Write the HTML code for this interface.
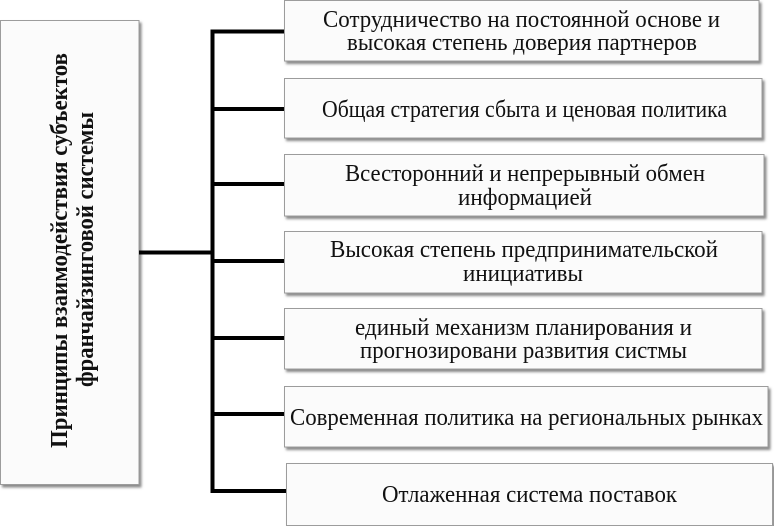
<!DOCTYPE html>
<html>
<head>
<meta charset="utf-8">
<style>
  html, body { margin: 0; padding: 0; background: #ffffff; }
  body { width: 774px; height: 526px; overflow: hidden; }
  svg { display: block; }
  text { font-family: "Liberation Serif", "DejaVu Serif", serif; fill: #111; }
</style>
</head>
<body>
<svg width="774" height="526" viewBox="0 0 774 526" xmlns="http://www.w3.org/2000/svg">
  <defs>
    <filter id="sh" x="-5%" y="-5%" width="115%" height="130%">
      <feDropShadow dx="2" dy="2.5" stdDeviation="1.3" flood-color="#6a6a6a" flood-opacity="0.8"/>
    </filter>
  </defs>

  <!-- Left main box -->
  <rect x="0.5" y="20.5" width="138.5" height="464" fill="#fbfbfb" stroke="#9c9c9c" stroke-width="1" filter="url(#sh)"/>
  <text transform="translate(67,250.5) rotate(-90)" text-anchor="middle" font-size="24" font-weight="bold" textLength="395" lengthAdjust="spacingAndGlyphs">Принципы взаимодействия субъектов</text>
  <text transform="translate(93,249.5) rotate(-90)" text-anchor="middle" font-size="24" font-weight="bold" textLength="275" lengthAdjust="spacingAndGlyphs">франчайзинговой системы</text>

  <!-- Connectors -->
  <g stroke="#000" stroke-width="4" fill="none" stroke-linecap="butt">
    <line x1="139" y1="252.5" x2="214" y2="252.5"/>
    <line x1="212.5" y1="29.5" x2="212.5" y2="493"/>
    <line x1="211" y1="31.5" x2="285" y2="31.5"/>
    <line x1="211" y1="109" x2="285" y2="109"/>
    <line x1="211" y1="184" x2="285" y2="184"/>
    <line x1="211" y1="261" x2="285" y2="261"/>
    <line x1="211" y1="338" x2="285" y2="338"/>
    <line x1="211" y1="414" x2="285" y2="414"/>
    <line x1="211" y1="491" x2="287" y2="491"/>
  </g>

  <!-- Right boxes -->
  <g fill="#fbfbfb" stroke="#9c9c9c" stroke-width="1" filter="url(#sh)">
    <rect x="284.5" y="0.5" width="474.5" height="60.5"/>
    <rect x="284.5" y="78.5" width="477.5" height="59.5"/>
    <rect x="284.5" y="154.5" width="479.5" height="61.5"/>
    <rect x="284.5" y="231.5" width="477.5" height="61.5"/>
    <rect x="284.5" y="308.5" width="477.5" height="60.5"/>
    <rect x="284.5" y="386.5" width="483.5" height="60.5"/>
    <rect x="286.5" y="463.5" width="486" height="62"/>
  </g>

  <!-- Right box texts -->
  <g font-size="24">
    <text x="323" y="27" textLength="397" lengthAdjust="spacingAndGlyphs">Сотрудничество на постоянной основе и</text>
    <text x="347" y="50" textLength="350" lengthAdjust="spacingAndGlyphs">высокая степень доверия партнеров</text>

    <text x="322" y="117" textLength="405" lengthAdjust="spacingAndGlyphs">Общая стратегия сбыта и ценовая политика</text>

    <text x="345" y="181" textLength="360" lengthAdjust="spacingAndGlyphs">Всесторонний и непрерывный обмен</text>
    <text x="458" y="205" textLength="134" lengthAdjust="spacingAndGlyphs">информацией</text>

    <text x="330" y="257" textLength="388" lengthAdjust="spacingAndGlyphs">Высокая степень предпринимательской</text>
    <text x="463" y="281" textLength="120" lengthAdjust="spacingAndGlyphs">инициативы</text>

    <text x="355" y="335" textLength="337" lengthAdjust="spacingAndGlyphs">единый механизм планирования и</text>
    <text x="360" y="358" textLength="327" lengthAdjust="spacingAndGlyphs">прогнозировани развития систмы</text>

    <text x="290" y="425" textLength="473" lengthAdjust="spacingAndGlyphs">Современная политика на региональных рынках</text>

    <text x="382" y="502" textLength="295" lengthAdjust="spacingAndGlyphs">Отлаженная система поставок</text>
  </g>
</svg>
</body>
</html>
